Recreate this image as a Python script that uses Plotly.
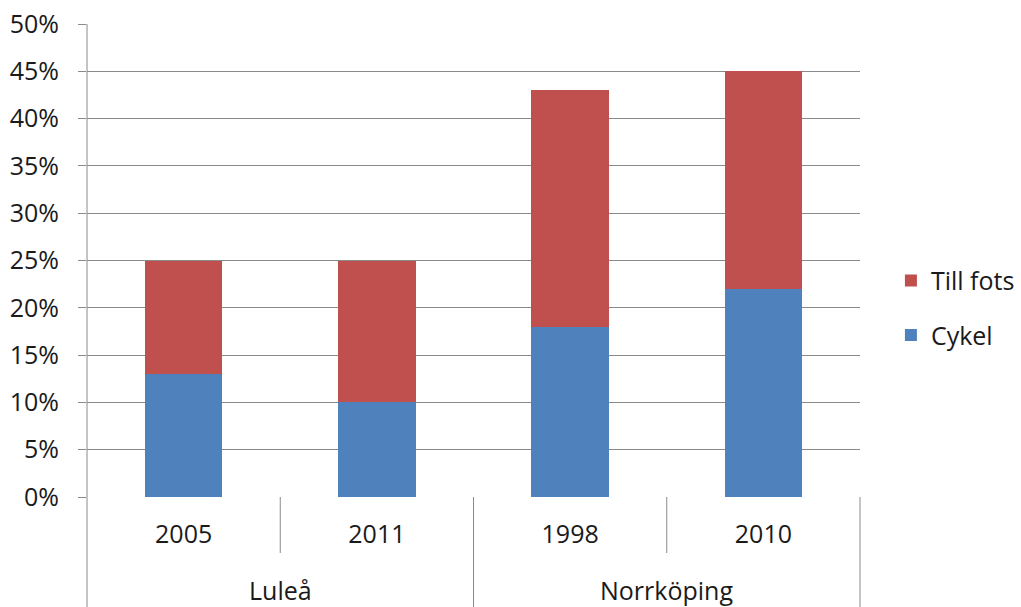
import plotly.graph_objects as go

# Travel mode shares per city and survey year
years = ["2005", "2011", "1998", "2010"]
cities = ["Luleå", "Norrköping"]
city_spans = [(0, 1), (2, 3)]  # category index range covered by each city
cykel = [0.13, 0.10, 0.18, 0.22]
till_fots = [0.12, 0.15, 0.25, 0.23]
y_ticks = [0.0, 0.05, 0.10, 0.15, 0.20, 0.25, 0.30, 0.35, 0.40, 0.45, 0.50]

BLUE = "#4F81BD"
RED = "#C0504D"
GRID = "#8A8A8A"
TEXT = "#1A1A1A"
FONT = "Open Sans"

fig = go.Figure()
fig.add_trace(go.Bar(name="Cykel", x=years, y=cykel, marker=dict(color=BLUE, line=dict(width=0)),
                     legendgroup="cykel", legendrank=2))
fig.add_trace(go.Bar(name="Till fots", x=years, y=till_fots, marker=dict(color=RED, line=dict(width=0)),
                     legendgroup="fots", legendrank=1))

PLOT_H = 473.0
BOTTOM = 110.0
inner_depth = -56.0 / PLOT_H
outer_depth = -BOTTOM / PLOT_H

shapes = []
line_style = dict(color=GRID, width=1)
# outer edges of the category axis
shapes.append(dict(type="line", xref="paper", yref="paper", x0=0, x1=0, y0=1, y1=outer_depth, line=line_style))
shapes.append(dict(type="line", xref="paper", yref="paper", x0=1, x1=1, y0=0, y1=outer_depth, line=line_style))
# dividers between years inside a city, and between cities
for start, end in city_spans:
    for k in range(start, end):
        shapes.append(dict(type="line", xref="x", yref="paper", x0=k + 0.5, x1=k + 0.5,
                           y0=0, y1=inner_depth, line=line_style))
for (s0, e0), (s1, e1) in zip(city_spans[:-1], city_spans[1:]):
    shapes.append(dict(type="line", xref="x", yref="paper", x0=e0 + 0.5, x1=e0 + 0.5,
                       y0=0, y1=outer_depth, line=line_style))

annotations = []
for city, (start, end) in zip(cities, city_spans):
    annotations.append(dict(text=city, xref="x", yref="paper", x=(start + end) / 2,
                            y=-93.0 / PLOT_H, yanchor="middle", xanchor="center",
                            showarrow=False, font=dict(family=FONT, size=25, color=TEXT)))

fig.update_layout(
    width=1021, height=607,
    margin=dict(l=87, r=161, t=24, b=110, autoexpand=False),
    paper_bgcolor="white", plot_bgcolor="white",
    barmode="stack", bargap=0.6,
    font=dict(family=FONT, size=25, color=TEXT),
    showlegend=True,
    legend=dict(x=1.04, xanchor="left", y=0.4, yanchor="middle",
                traceorder="grouped", tracegroupgap=19,
                font=dict(family=FONT, size=25, color=TEXT), bgcolor="rgba(0,0,0,0)"),
    shapes=shapes,
    annotations=annotations,
)
fig.update_xaxes(type="category", showgrid=False, zeroline=False, showline=False,
                 ticks="", tickfont=dict(family=FONT, size=25, color=TEXT),
                 ticklabelstandoff=20)
fig.update_yaxes(range=[0, 0.5], tickvals=y_ticks, tickformat=".0%",
                 showgrid=True, gridcolor=GRID, gridwidth=1, zeroline=False,
                 showline=False, ticks="outside", ticklen=8, tickcolor=GRID,
                 tickfont=dict(family=FONT, size=25, color=TEXT), ticklabelstandoff=14)

fig.write_html("out.html")
